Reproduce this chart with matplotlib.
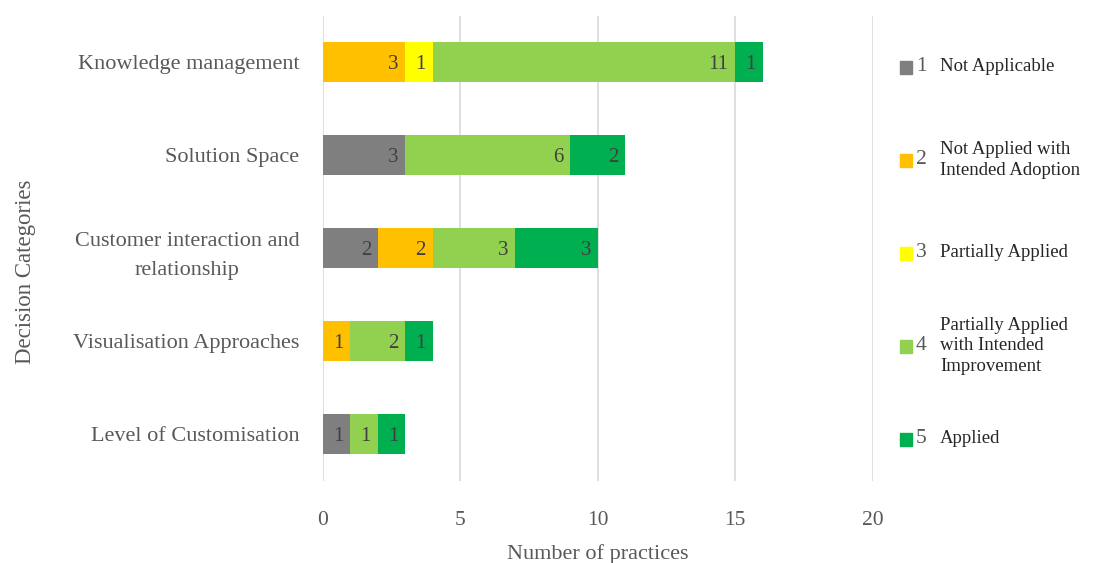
import numpy as np
import matplotlib.pyplot as plt
from matplotlib.patches import Rectangle

plt.rcParams['font.family'] = ['Liberation Serif', 'DejaVu Serif']

categories = ['Knowledge management', 'Solution Space',
              'Customer interaction and\nrelationship',
              'Visualisation Approaches', 'Level of Customisation']
series_names = ['Not Applicable', 'Not Applied with\nIntended Adoption',
                'Partially Applied', 'Partially Applied\nwith Intended\nImprovement',
                'Applied']
series_nums = ['1', '2', '3', '4', '5']
not_applicable = [0, 3, 2, 0, 1]
not_applied_intended = [3, 0, 2, 1, 0]
partially_applied = [1, 0, 0, 0, 0]
partially_applied_improve = [11, 6, 3, 2, 1]
applied = [1, 2, 3, 1, 1]
colors = ['#7f7f7f', '#ffc000', '#ffff00', '#92d050', '#00b050']

data = np.array([not_applicable, not_applied_intended, partially_applied,
                 partially_applied_improve, applied], dtype=float)

fig = plt.figure(figsize=(11.02, 5.63), dpi=100)
ax = fig.add_axes([0.293, 0.146, 0.499, 0.826])

y = np.arange(len(categories))
left = np.zeros(len(categories))
for vals, col in zip(data, colors):
    ax.barh(y, vals, left=left, height=0.43, color=col, zorder=2)
    for yi, (l, v) in enumerate(zip(left, vals)):
        if v > 0:
            ax.text(l + v - 0.25, yi + 0.02, '%d' % v, ha='right', va='center',
                    fontsize=15, color='#404040', zorder=3)
    left += vals

ax.set_xlim(0, 20)
ax.set_ylim(len(categories) - 0.5, -0.5)
ax.set_xticks([0, 5, 10, 15, 20])
ax.set_yticks(y)
ax.set_yticklabels(categories, fontsize=16, color='#595959', ha='right',
                   multialignment='center', linespacing=1.75)
ax.tick_params(axis='y', length=0, pad=17)
ax.tick_params(axis='x', length=0, pad=22, labelsize=15.5, labelcolor='#595959')
ax.grid(axis='x', color='#d9d9d9', linewidth=1.2, zorder=0)
for s in ax.spines.values():
    s.set_visible(False)
ax.set_xlabel('Number of practices', fontsize=16, color='#595959', labelpad=10)
fig.text(0.023, 0.517, 'Decision Categories', rotation=90, ha='center',
         va='center', fontsize=16.5, color='#595959')

# legend drawn by hand next to each row
for i, (num, name, col) in enumerate(zip(series_nums, series_names, colors)):
    yy = ax.transData.transform((0, i + 0.05))[1] / fig.bbox.height
    fig.patches.append(Rectangle((0.8165, yy - 0.012), 0.011, 0.022,
                                 transform=fig.transFigure, color=col))
    fig.text(0.831, yy, num, fontsize=15.5, color='#595959', va='center')
    fig.text(0.853, yy, name, fontsize=13.5, color='#262626', va='center',
             linespacing=1.3)

fig.savefig('out.png', dpi=100)
